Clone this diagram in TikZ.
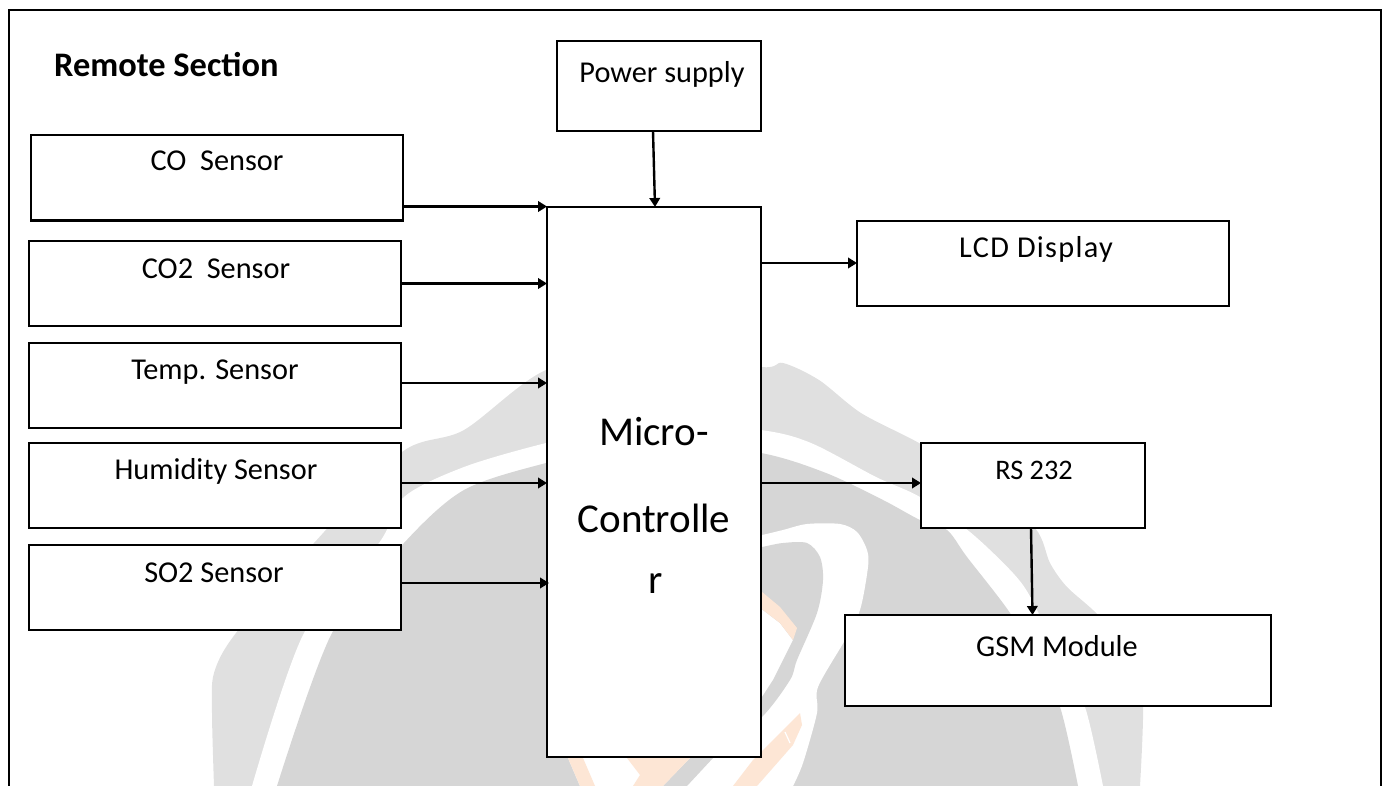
\documentclass[tikz,border=0pt]{standalone}
\usepackage{fontspec}
\setmainfont{Carlito}
\usetikzlibrary{arrows.meta}
\definecolor{wmlight}{HTML}{E0E0E0}
\definecolor{wmdark}{HTML}{D6D6D6}
\definecolor{wmorange}{HTML}{FDE6D5}
\tikzset{
  blockbox/.style={draw=black,line width=2.1pt,fill=white,sharp corners,inner sep=0pt,outer sep=0pt},
  conn/.style={draw=black,line width=2.4pt,-{Triangle[length=9pt,width=10.5pt]}},
  lab/.style={anchor=base,inner sep=0pt,font=\fontsize{30.3}{34}\selectfont},
  biglab/.style={anchor=base,inner sep=0pt,font=\fontsize{41}{46}\selectfont},
}
\begin{document}
\begin{tikzpicture}[x=1pt,y=-1pt]
\useasboundingbox (0,0) rectangle (1389,786);
% watermark
\fill[wmlight] plot[smooth,tension=0.5] coordinates {(214,786)(212,713)(214,673)(236,633)(314,543)(402,452)(464,430)(546,370)(650,350)(761,367)(783,363)(819,380)(861,413)(919,443)(980,480)(1035,528)(1050,563)(1067,587)(1098,615)(1135,660)(1143,706)(1140,786)} -- cycle;
\fill[white] plot[smooth,tension=0.5] coordinates {(252,786)(304,633)(379,543)(404,497)(464,467)(546,443)(650,420)(761,430)(811,443)(876,477)(920,497)(970,532)(1013,573)(1032,600)(1060,660)(1085,707)(1103,786)} -- cycle;
\fill[wmdark] plot[smooth,tension=0.5] coordinates {(277,786)(332,633)(404,543)(464,490)(546,463)(650,440)(761,453)(826,473)(883,500)(920,520)(947,530)(967,557)(1010,613)(1035,660)(1060,707)(1078,786)} -- cycle;
% inner swirl
\fill[white] plot[smooth,tension=0.5] coordinates {(700,560)(745,538)(762,535)(783,530)(807,524)(840,524)(857,532)(867,550)(868,567)(860,610)(845,640)(818,687)(817,713)(803,763)(793,786)} -- (580,786) -- (568,758) -- (600,650) -- cycle;
\fill[wmdark] plot[smooth,tension=0.5] coordinates {(700,560)(745,550)(762,547)(783,543)(807,543)(820,557)(823,580)(817,613)(797,660)(790,680)(762,717)(713,758)} -- (687,786) -- (663,786) -- (690,758) -- (762,697) -- (773,680) -- (793,640) -- (780,623) -- (763,610) -- (745,595) -- cycle;
\fill[wmorange] (745,575) -- (762,592) -- (780,607) -- (797,628) -- (793,640) -- (780,623) -- (763,610) -- (745,595) -- cycle;
\fill[wmorange] (733,786) -- (753,760) -- (800,713) -- (802,725) -- (793,745) -- (757,786) -- cycle;
\draw[white,line width=1.2pt] (785,732) -- (790,743);
\fill[wmorange] (568,758) -- (583,758) -- (595,786) -- (580,786) -- cycle;
\fill[wmorange] (627,758) -- (690,758) -- (663,786) -- (633,786) -- (640,775) -- cycle;
% frame, open at the bottom
\draw[black,line width=2.1pt] (9,786) -- (9,10) -- (1381,10) -- (1381,786);
% boxes
\node[blockbox,minimum width=204pt,minimum height=90pt] (pwr) at (659,86) {};
\node[blockbox,minimum width=372.3pt,minimum height=85.5pt] (co) at (216.85,177.75) {};
\node[blockbox,minimum width=372pt,minimum height=85pt] (cotwo) at (215,283.5) {};
\node[blockbox,minimum width=372pt,minimum height=85pt] (temp) at (215,385.5) {};
\node[blockbox,minimum width=372pt,minimum height=85pt] (hum) at (215,485.5) {};
\node[blockbox,minimum width=372pt,minimum height=85pt] (sotwo) at (215,587.5) {};
\node[blockbox,minimum width=214pt,minimum height=550pt] (mc) at (654,482) {};
\node[blockbox,minimum width=372pt,minimum height=85pt] (lcd) at (1043,263.5) {};
\node[blockbox,minimum width=224pt,minimum height=85pt] (rs) at (1033,485.5) {};
\node[blockbox,minimum width=426pt,minimum height=91pt] (gsm) at (1058,660.5) {};
% labels
\node[anchor=base west,inner sep=0pt,font=\fontsize{34.4}{38}\selectfont\bfseries] (title) at (54,77) {Remote Section};
\node[lab] (tpwr) at (662,83) {Power supply};
\node[lab] (tco) at (217,171) {CO\ \ Sensor};
\node[lab] (tcotwo) at (216,279) {CO2\ \ Sensor};
\node[lab] (ttemp) at (215,379) {Temp. Sensor};
\node[lab] (thum) at (216,479) {Humidity Sensor};
\node[lab] (tsotwo) at (214,582) {SO2 Sensor};
\node[lab] (tlcd) at (1036,258) {\addfontfeatures{LetterSpace=4.3}LCD Display};
\node[lab,font=\fontsize{28.3}{32}\selectfont] (trs) at (1034,479) {RS 232};
\node[lab] (tgsm) at (1057,656) {GSM Module};
\node[biglab] (tm1) at (654,445) {Micro-};
\node[biglab] (tm2) at (654,532) {Controlle};
\node[biglab] (tm3) at (656,593) {r};
% connector ends
\coordinate (cco) at ([yshift=-28.75pt]co.east);
\coordinate (ccotwo) at (cotwo.east);
\coordinate (ctemp) at ([yshift=2.5pt]temp.east);
\coordinate (chum) at ([yshift=2.5pt]hum.east);
\coordinate (csotwo) at ([yshift=4.5pt]sotwo.east);
\coordinate (clcd) at ([yshift=0.5pt]lcd.west);
\coordinate (crs) at ([yshift=2.5pt]rs.west);
% connectors
\draw[conn] (cco) -- (mc.west |- cco);
\draw[conn] (ccotwo) -- (mc.west |- ccotwo);
\draw[conn] (ctemp) -- (mc.west |- ctemp);
\draw[conn] (chum) -- (mc.west |- chum);
\draw[conn] (csotwo) -- ([xshift=2pt]mc.west |- csotwo);
\draw[conn] ([xshift=-6pt]pwr.south) -- ([xshift=1pt]mc.north);
\draw[conn] (mc.east |- clcd) -- (clcd);
\draw[conn] (mc.east |- crs) -- (crs);
\draw[conn] ([xshift=-2pt]rs.south) -- ([xshift=-25.5pt]gsm.north);
\end{tikzpicture}
\end{document}
